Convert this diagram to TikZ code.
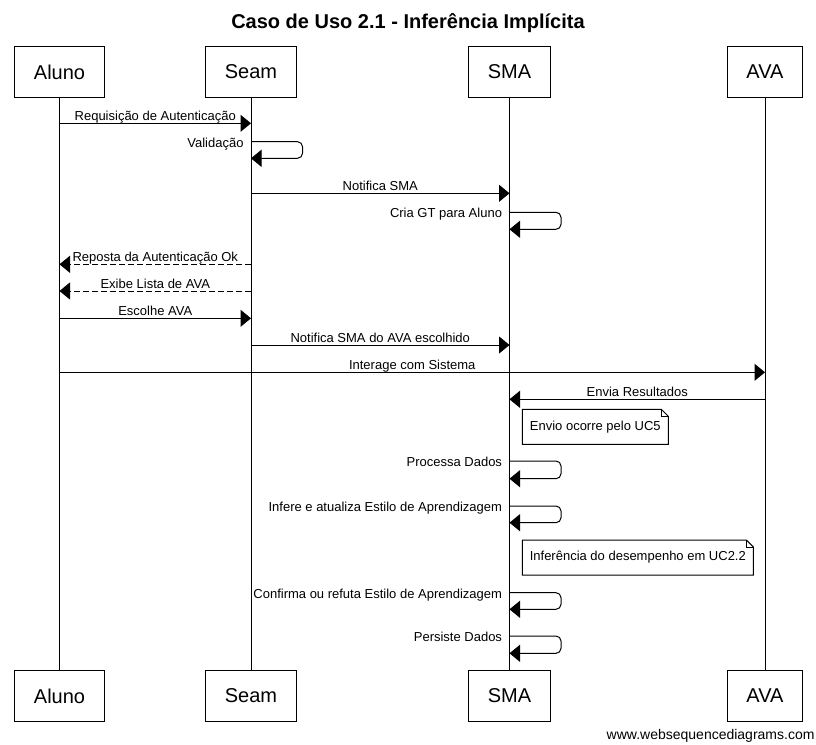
\documentclass[tikz,border=0pt]{standalone}
\usepackage{fontspec}
\setmainfont{Liberation Sans}
\usetikzlibrary{arrows.meta}

\begin{document}
\begin{tikzpicture}[x=1pt,y=-1pt,line width=1pt,
  actor/.style={draw, inner xsep=19pt, minimum height=51pt, font=\fontsize{20}{24}\selectfont},
  msg/.style={-{Triangle[length=10.5pt,width=17pt]}},
  reply/.style={msg, dash pattern=on 6pt off 3pt},
  self/.style={msg, rounded corners=5pt},
  lbl/.style={anchor=base, inner sep=0pt, yshift=2.6pt, font=\fontsize{13}{15}\selectfont},
  slbl/.style={anchor=base east, inner sep=0pt, xshift=-7pt, yshift=-5.3pt, font=\fontsize{13}{15}\selectfont},
  note/.style={anchor=north west, minimum height=34pt, inner xsep=7pt, font=\fontsize{13}{15}\selectfont}]
\useasboundingbox (0,0) rectangle (816,744);

\node[anchor=base, font=\bfseries\fontsize{20}{24}\selectfont] (title) at (408,28.5) {Caso de Uso 2.1 - Inferência Implícita};

\node[actor] (aluno) at (59.5,72) {Aluno};
\node[actor] (seam) at (251,72) {Seam};
\node[actor] (sma) at (509.5,72) {SMA};
\node[actor] (ava) at (765,72) {AVA};
\node[actor] (aluno2) at (59.5,696) {Aluno};
\node[actor] (seam2) at (251,696) {Seam};
\node[actor] (sma2) at (509.5,696) {SMA};
\node[actor] (ava2) at (765,696) {AVA};

\draw (aluno) -- (aluno2);
\draw (seam) -- (seam2);
\draw (sma) -- (sma2);
\draw (ava) -- (ava2);

\draw[msg] (aluno |- 0,123.3) -- node[lbl] {Requisição de Autenticação} (seam |- 0,123.3);
\draw[self] (seam |- 0,141.7) node[slbl] {Validação} -- ++(51.5,0) -- ++(0,16.6) -- (seam |- 0,158.3);
\draw[msg] (seam |- 0,193.3) -- node[lbl] {Notifica SMA} (sma |- 0,193.3);
\draw[self] (sma |- 0,212.3) node[slbl] {Cria GT para Aluno} -- ++(51.5,0) -- ++(0,17) -- (sma |- 0,229.3);
\draw[reply] (seam |- 0,264.3) -- node[lbl] {Reposta da Autenticação Ok} (aluno |- 0,264.3);
\draw[reply] (seam |- 0,291) -- node[lbl] {Exibe Lista de AVA} (aluno |- 0,291);
\draw[msg] (aluno |- 0,318.3) -- node[lbl] {Escolhe AVA} (seam |- 0,318.3);
\draw[msg] (seam |- 0,345) -- node[lbl] {Notifica SMA do AVA escolhido} (sma |- 0,345);
\draw[msg] (aluno |- 0,372.3) -- node[lbl] {Interage com Sistema} (ava |- 0,372.3);
\draw[msg] (ava |- 0,399.3) -- node[lbl] {Envia Resultados} (sma |- 0,399.3);

\node[note, minimum width=145pt] (uc5) at (522.3,409.3) {Envio ocorre pelo UC5};
\draw (uc5.north west) -- ([xshift=-7pt]uc5.north east) -- ([yshift=-7pt]uc5.north east) -- (uc5.south east) -- (uc5.south west) -- cycle;
\draw ([xshift=-7pt]uc5.north east) |- ([yshift=-7pt]uc5.north east);

\draw[self] (sma |- 0,461) node[slbl] {Processa Dados} -- ++(51.5,0) -- ++(0,17.7) -- (sma |- 0,478.7);
\draw[self] (sma |- 0,506) node[slbl] {Infere e atualiza Estilo de Aprendizagem} -- ++(51.5,0) -- ++(0,16.7) -- (sma |- 0,522.7);

\node[note, minimum width=230pt] (uc22) at (522.3,540) {Inferência do desempenho em UC2.2};
\draw (uc22.north west) -- ([xshift=-7pt]uc22.north east) -- ([yshift=-7pt]uc22.north east) -- (uc22.south east) -- (uc22.south west) -- cycle;
\draw ([xshift=-7pt]uc22.north east) |- ([yshift=-7pt]uc22.north east);

\draw[self] (sma |- 0,592.7) node[slbl] {Confirma ou refuta Estilo de Aprendizagem} -- ++(51.5,0) -- ++(0,16.6) -- (sma |- 0,609.3);
\draw[self] (sma |- 0,636) node[slbl] {Persiste Dados} -- ++(51.5,0) -- ++(0,17.3) -- (sma |- 0,653.3);

\node[anchor=base east, inner sep=0pt, font=\fontsize{14}{16}\selectfont] (site) at (815,739.3) {www.websequencediagrams.com};
\end{tikzpicture}
\end{document}
